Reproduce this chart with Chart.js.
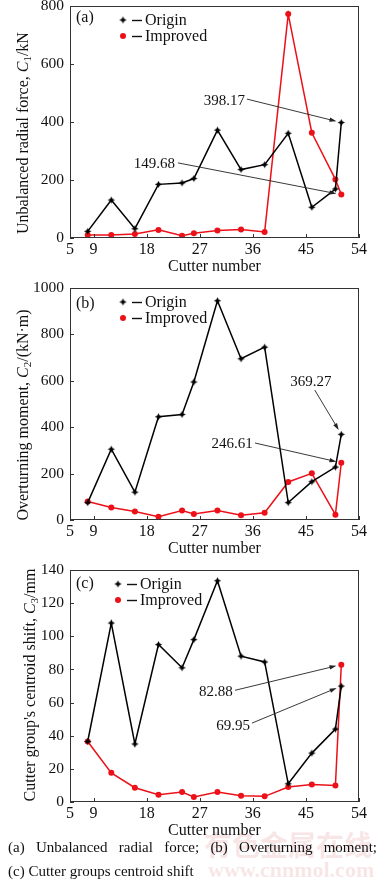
<!DOCTYPE html>
<html>
<head>
<meta charset="utf-8">
<script src="https://cdn.jsdelivr.net/npm/chart.js@4.4.0/dist/chart.umd.min.js"></script>
<style>
html,body{margin:0;padding:0;background:#fff;width:381px;height:882px;overflow:hidden;position:relative;font-family:"Liberation Serif","Times New Roman",serif;}
canvas{position:absolute;left:0;}
.cap{position:absolute;left:8px;width:369px;font-size:15px;line-height:18px;color:#111;white-space:nowrap;}
#cap1{top:838px;text-align:justify;text-align-last:justify;white-space:normal;}
#cap2{top:862px;}
.wm{position:absolute;color:rgba(225,140,140,0.22);white-space:nowrap;}
#wm1{left:204px;top:824px;font-family:"Noto Sans CJK SC",sans-serif;font-weight:bold;font-size:28px;letter-spacing:0px;}
#wm2{left:208px;top:857px;font-family:"Liberation Serif",serif;font-weight:bold;font-size:22px;}
</style>
</head>
<body>
<div class="wm" id="wm1">有色金属在线</div>
<div class="wm" id="wm2">www.cnnmol.com</div>
<canvas id="ca" width="381" height="286" style="top:-10px"></canvas>
<canvas id="cb" width="381" height="286" style="top:272px"></canvas>
<canvas id="cc" width="381" height="286" style="top:554px"></canvas>
<div class="cap" id="cap1">(a) Unbalanced radial force; (b) Overturning moment;</div>
<div class="cap" id="cap2">(c) Cutter groups centroid shift</div>
<script>
// ---------------- data ----------------
const cutterNumbers = [8, 12, 16, 20, 24, 26, 30, 34, 38, 42, 46, 50, 51];
const xTickValues = [5, 9, 18, 27, 36, 45, 54];
const seriesNames = ['Origin', 'Improved'];

const forceOrigin   = [23, 131, 32, 185, 190, 205, 372, 236, 253, 361, 106, 169, 398.17];
const forceImproved = [10, 10, 14, 28, 8, 16, 26, 29, 21, 772, 363, 202, 149.68];
const forceTicks    = [0, 200, 400, 600, 800];

const momentOrigin   = [75, 305, 120, 445, 455, 595, 945, 695, 745, 75, 165, 228, 369.27];
const momentImproved = [80, 54, 37, 14, 41, 26, 41, 21, 31, 164, 201, 23, 246.61];
const momentTicks    = [0, 200, 400, 600, 800, 1000];

const shiftOrigin   = [36.5, 108, 35, 95, 81, 98, 133.5, 88, 84.5, 11, 29.5, 44, 69.95];
const shiftImproved = [36.5, 17.6, 8.6, 4.4, 6, 3, 6, 3.8, 3.4, 9, 10.6, 10, 82.88];
const shiftTicks    = [0, 20, 40, 60, 80, 100, 120, 140];

// annotation labels: text, text anchor (data coords), arrow tail (data coords), target series/index
const forceNotes = [
  {text: '398.17', tx: 34.66, ty: 476, align: 'right', ax: 35.0, ay: 479, series: 0, index: 12},
  {text: '149.68', tx: 22.8, ty: 259, align: 'right', ax: 23.3, ay: 259, series: 1, index: 12}
];
const momentNotes = [
  {text: '369.27', tx: 45.85, ty: 599, align: 'center', ax: 46.5, ay: 560, series: 0, index: 12},
  {text: '246.61', tx: 36.0, ty: 332, align: 'right', ax: 36.36, ay: 332, series: 1, index: 12}
];
const shiftNotes = [
  {text: '82.88', tx: 32.6, ty: 66.8, align: 'right', ax: 32.97, ay: 67.4, series: 1, index: 12},
  {text: '69.95', tx: 35.5, ty: 46.4, align: 'right', ax: 35.85, ay: 47.6, series: 0, index: 12}
];

const forceTitle  = [['Unbalanced radial force, ', 'n'], ['C', 'i'], ['1', 's'], ['/kN', 'n']];
const momentTitle = [['Overturning moment, ', 'n'], ['C', 'i'], ['2', 's'], ['/(kN\u00b7m)', 'n']];
const shiftTitle  = [["Cutter group's centroid shift, ", 'n'], ['C', 'i'], ['3', 's'], ['/mm', 'n']];

// ---------------- styling ----------------
const SERIF = '"Liberation Serif","Times New Roman",serif';
const RED = '#ec1018';
const BLACK = '#000000';
const AXIS = '#333333';

function makeStar() {
  const c = document.createElement('canvas');
  c.width = 9; c.height = 9;
  const g = c.getContext('2d');
  g.fillStyle = '#000';
  g.beginPath();
  for (let k = 0; k < 8; k++) {
    const ang = -Math.PI / 2 + k * Math.PI / 4;
    const rad = k % 2 === 0 ? 3.6 : 1.7;
    g.lineTo(4.5 + rad * Math.cos(ang), 4.5 + rad * Math.sin(ang));
  }
  g.closePath();
  g.fill();
  return c;
}
const starImg = makeStar();

const decorPlugin = {
  id: 'decor',
  afterDatasetsDraw(chart, args, opts) {
    const ctx = chart.ctx;
    const a = chart.chartArea;
    const xs = chart.scales.x, ys = chart.scales.y;
    ctx.save();
    // frame
    ctx.strokeStyle = AXIS;
    ctx.lineWidth = 1;
    ctx.strokeRect(Math.round(a.left) + 0.5, Math.round(a.top) + 0.5,
                   Math.round(a.right - a.left) - 1, Math.round(a.bottom - a.top) - 1);
    // inward ticks
    ctx.beginPath();
    xs.ticks.forEach(t => {
      const px = Math.round(xs.getPixelForValue(t.value)) + 0.5;
      ctx.moveTo(px, a.bottom); ctx.lineTo(px, a.bottom - 4);
    });
    ys.ticks.forEach(t => {
      const py = Math.round(ys.getPixelForValue(t.value)) + 0.5;
      ctx.moveTo(a.left, py); ctx.lineTo(a.left + 4, py);
    });
    ctx.stroke();

    // panel tag
    ctx.fillStyle = '#111';
    ctx.font = '16px ' + SERIF;
    ctx.textBaseline = 'middle';
    ctx.textAlign = 'left';
    ctx.fillText(opts.tag, a.left + 6, a.top + opts.tagDy);

    // legend
    chart.data.datasets.forEach((ds, i) => {
      const y = a.top + 14 + i * 16;
      const mx = a.left + opts.legendDx;
      if (i === 0) {
        ctx.drawImage(starImg, mx - 4.5, y - 4.5);
      } else {
        ctx.fillStyle = ds.pointBackgroundColor;
        ctx.beginPath(); ctx.arc(mx, y, 3, 0, Math.PI * 2); ctx.fill();
      }
      ctx.strokeStyle = '#111';
      ctx.lineWidth = 1.4;
      ctx.beginPath(); ctx.moveTo(mx + 9, y + 0.5); ctx.lineTo(mx + 19, y + 0.5); ctx.stroke();
      ctx.fillStyle = '#111';
      ctx.font = '16px ' + SERIF;
      ctx.textAlign = 'left';
      ctx.fillText(ds.label, mx + 22, y + 1);
    });

    // annotations with arrows
    ctx.font = '15px ' + SERIF;
    opts.notes.forEach(n => {
      const tx = xs.getPixelForValue(n.tx), ty = ys.getPixelForValue(n.ty);
      ctx.fillStyle = '#111';
      ctx.textAlign = n.align;
      ctx.textBaseline = 'middle';
      ctx.fillText(n.text, tx, ty + 1);
      const el = chart.getDatasetMeta(n.series).data[n.index];
      const px = el.x, py = el.y;
      const sx = xs.getPixelForValue(n.ax), sy = ys.getPixelForValue(n.ay);
      const dx = px - sx, dy = py - sy, len = Math.hypot(dx, dy);
      const ux = dx / len, uy = dy / len;
      const ex = px - ux * 5, ey = py - uy * 5;
      ctx.strokeStyle = '#222';
      ctx.lineWidth = 0.9;
      ctx.beginPath(); ctx.moveTo(sx, sy); ctx.lineTo(ex - ux * 5, ey - uy * 5); ctx.stroke();
      ctx.fillStyle = '#222';
      ctx.beginPath();
      ctx.moveTo(ex, ey);
      ctx.lineTo(ex - ux * 7 - uy * 2.2, ey - uy * 7 + ux * 2.2);
      ctx.lineTo(ex - ux * 7 + uy * 2.2, ey - uy * 7 - ux * 2.2);
      ctx.closePath(); ctx.fill();
    });

    // y axis title with italic symbol and subscript
    const cx = opts.titleX, cy = (a.top + a.bottom) / 2 + opts.titleDy;
    ctx.translate(cx, cy);
    ctx.rotate(-Math.PI / 2);
    const fonts = {n: '16px ' + SERIF, i: 'italic 16px ' + SERIF, s: '11px ' + SERIF};
    let total = 0;
    opts.title.forEach(p => { ctx.font = fonts[p[1]]; total += ctx.measureText(p[0]).width; });
    let x0 = -total / 2;
    ctx.textAlign = 'left';
    ctx.textBaseline = 'alphabetic';
    ctx.fillStyle = '#111';
    opts.title.forEach(p => {
      ctx.font = fonts[p[1]];
      ctx.fillText(p[0], x0, p[1] === 's' ? 8.5 : 5.5);
      x0 += ctx.measureText(p[0]).width;
    });
    ctx.restore();
  }
};

function makePanel(canvasId, origin, improved, yTicks, notes, title, tag, tagDy, legendDx, titleX, titleDy) {
  const toPts = arr => cutterNumbers.map((x, i) => ({x: x, y: arr[i]}));
  const yMax = yTicks[yTicks.length - 1];
  return new Chart(document.getElementById(canvasId), {
    type: 'line',
    data: {
      datasets: [
        {label: seriesNames[0], data: toPts(origin), borderColor: BLACK, borderWidth: 1.5,
         pointStyle: starImg, pointRadius: 4, pointBackgroundColor: BLACK, tension: 0},
        {label: seriesNames[1], data: toPts(improved), borderColor: RED, borderWidth: 1.5,
         pointStyle: 'circle', pointRadius: 3, pointBorderWidth: 0, pointBackgroundColor: RED, tension: 0}
      ]
    },
    options: {
      responsive: false,
      animation: false,
      devicePixelRatio: 1,
      layout: {padding: {left: 13, right: 22, top: 16, bottom: 0}},
      plugins: {
        legend: {display: false},
        tooltip: {enabled: false},
        decor: {notes: notes, title: title, tag: tag, tagDy: tagDy, legendDx: legendDx, titleX: titleX, titleDy: titleDy}
      },
      scales: {
        x: {
          type: 'linear', min: 5, max: 54,
          afterBuildTicks: s => { s.ticks = xTickValues.map(v => ({value: v})); },
          afterFit: s => { s.height = 38; },
          grid: {display: false, drawTicks: false, tickLength: 0},
          border: {display: false},
          ticks: {font: {family: SERIF, size: 16}, color: '#111', padding: 2, maxRotation: 0, autoSkip: false,
                  callback: v => String(v)},
          title: {display: true, text: 'Cutter number', font: {family: SERIF, size: 16}, color: '#111', padding: 0}
        },
        y: {
          type: 'linear', min: 0, max: yMax,
          afterBuildTicks: s => { s.ticks = yTicks.map(v => ({value: v})); },
          afterFit: s => { s.width = 57; },
          grid: {display: false, drawTicks: false, tickLength: 0},
          border: {display: false},
          ticks: {font: {family: SERIF, size: 15.5}, color: '#111', padding: 6, autoSkip: false,
                  callback: v => String(v)}
        }
      }
    },
    plugins: [decorPlugin]
  });
}

makePanel('ca', forceOrigin, forceImproved, forceTicks, forceNotes, forceTitle, '(a)', 12, 53, 22, 11);
makePanel('cb', momentOrigin, momentImproved, momentTicks, momentNotes, momentTitle, '(b)', 16, 53, 22, 11);
makePanel('cc', shiftOrigin, shiftImproved, shiftTicks, shiftNotes, shiftTitle, '(c)', 14, 48, 29, -1);
</script>
</body>
</html>
